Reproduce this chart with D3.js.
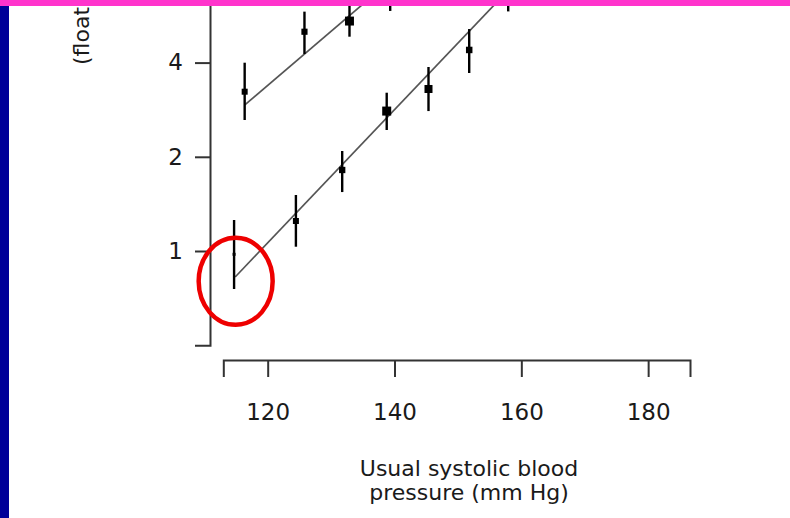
<!DOCTYPE html>
<html>
<head>
<meta charset="utf-8">
<script src="https://cdn.jsdelivr.net/npm/d3@7"></script>
<style>
  html, body { margin: 0; padding: 0; background: #ffffff; }
  svg { display: block; }
  text { font-family: "DejaVu Sans", Verdana, sans-serif; fill: #1a1a1a; }
</style>
</head>
<body>
<script>
// Usual systolic blood pressure (mm Hg) for each group, two age bands
const sbpLow  = [114.7, 124.45, 131.75, 138.77, 145.36, 151.78, 157.93];
const riskLow = [0.976, 1.247, 1.815, 2.80, 3.294, 4.39, 7.03];
const ciLowLo = [0.756, 1.032, 1.543, 2.436, 2.80, 3.705, 5.83];
const ciLowHi = [1.256, 1.51, 2.087, 3.205, 3.873, 5.12, 8.4];
const weightLow = [9, 36, 40, 81, 64, 42, 30];

const sbpHigh  = [116.37, 125.80, 132.90, 139.32];
const riskHigh = [3.229, 5.02, 5.43, 6.83];
const ciHighLo = [2.622, 4.26, 4.84, 5.85];
const ciHighHi = [3.997, 5.82, 6.43, 8.02];
const weightHigh = [36, 38, 80, 50];

// Fitted log-linear trend for each band: [sbp, risk] at each end
const fitLow  = [[114.87, 0.826], [157.93, 6.81]];
const fitHigh = [[116.40, 2.93], [139.32, 7.30]];

// Axis ticks
const xTicks = [120, 140, 160, 180];
const yTicks = [1, 2, 4];

// Highlighted group (sbp, risk) circled on the chart
const highlight = [114.95, 0.80];

const xTitle = ["Usual systolic blood", "pressure (mm Hg)"];
const yTitle = "(floating absolute risk)";

const W = 790, H = 518;
const svg = d3.select("body").append("svg").attr("width", W).attr("height", H);
svg.append("rect").attr("width", W).attr("height", H).attr("fill", "#ffffff");

const x = d3.scaleLinear().domain([113, 186.6]).range([223.3, 690]);
const y = d3.scaleLog().base(2).domain([0.5, 16]).range([345.2, -125.8]);
const size = d3.scaleSqrt().domain([0, 100]).range([0, 10]);

const mkSeries = (sbp, risk, lo, hi, w) =>
  sbp.map((s, i) => ({ sbp: s, risk: risk[i], lo: lo[i], hi: hi[i], w: w[i] }));
const series = [
  mkSeries(sbpLow, riskLow, ciLowLo, ciLowHi, weightLow),
  mkSeries(sbpHigh, riskHigh, ciHighLo, ciHighHi, weightHigh)
];

const plot = svg.append("g");

// trend lines
const line = d3.line().x(d => x(d[0])).y(d => y(d[1]));
plot.selectAll("path.fit").data([fitLow, fitHigh]).join("path")
  .attr("class", "fit")
  .attr("d", line)
  .attr("fill", "none")
  .attr("stroke", "#555")
  .attr("stroke-width", 1.7);

series.forEach(pts => {
  // confidence intervals
  plot.selectAll(null).data(pts).join("line")
    .attr("x1", d => x(d.sbp)).attr("x2", d => x(d.sbp))
    .attr("y1", d => y(d.lo)).attr("y2", d => y(d.hi))
    .attr("stroke", "#000").attr("stroke-width", 2.4);
  // squares sized by weight
  plot.selectAll(null).data(pts).join("rect")
    .attr("x", d => x(d.sbp) - size(d.w) / 2)
    .attr("y", d => y(d.risk) - size(d.w) / 2)
    .attr("width", d => size(d.w))
    .attr("height", d => size(d.w))
    .attr("fill", "#000");
});

// axes
const xAxis = d3.axisBottom(x).tickValues(xTicks).tickFormat(d3.format("d"))
  .tickSize(17).tickSizeOuter(17).tickPadding(27);
const yAxis = d3.axisLeft(y).tickValues(yTicks).tickFormat(d3.format("d"))
  .tickSize(15).tickSizeOuter(15).tickPadding(12);

const gx = svg.append("g").attr("transform", "translate(0,360)").call(xAxis);
const gy = svg.append("g").attr("transform", "translate(210,0)").call(yAxis);
[gx, gy].forEach(g => {
  g.select(".domain").attr("stroke", "#333").attr("stroke-width", 2);
  g.selectAll(".tick line").attr("stroke", "#333").attr("stroke-width", 2);
  g.selectAll(".tick text")
    .attr("font-family", "DejaVu Sans, Verdana, sans-serif")
    .attr("font-size", 23).attr("fill", "#1a1a1a");
});

// axis titles
svg.append("text")
  .attr("text-anchor", "middle")
  .attr("font-size", 22)
  .selectAll("tspan").data(xTitle).join("tspan")
  .attr("x", 469)
  .attr("y", (d, i) => 476 + i * 24)
  .text(d => d);

svg.append("text")
  .attr("transform", "translate(89,65) rotate(-90)")
  .attr("text-anchor", "start")
  .attr("font-size", 22)
  .text(yTitle);

// circled group
svg.append("ellipse")
  .attr("cx", x(highlight[0])).attr("cy", y(highlight[1]))
  .attr("rx", 37).attr("ry", 43.5)
  .attr("fill", "none").attr("stroke", "#ee0000").attr("stroke-width", 4.5);

// slide frame bars
svg.append("rect").attr("x", 0).attr("y", 0).attr("width", W).attr("height", 6).attr("fill", "#ff33cc");
svg.append("rect").attr("x", 0).attr("y", 6).attr("width", 9).attr("height", H - 6).attr("fill", "#000099");
</script>
</body>
</html>
